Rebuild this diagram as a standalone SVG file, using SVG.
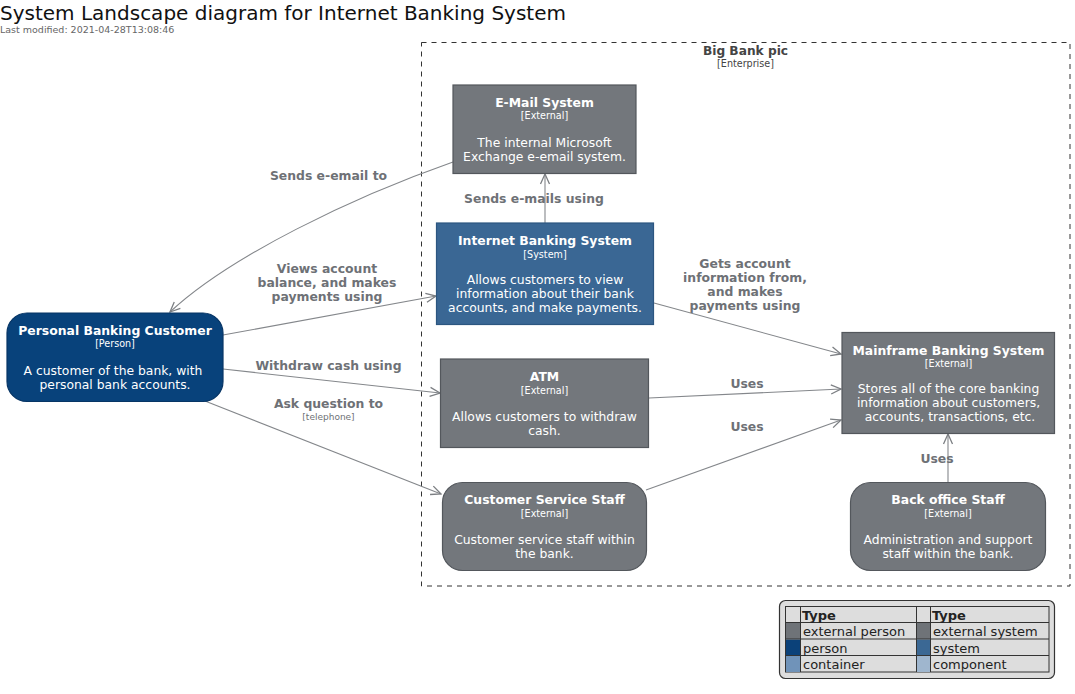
<svg xmlns="http://www.w3.org/2000/svg" width="1075" height="694" viewBox="0 0 1075 694">
<style>
text{font-family:"DejaVu Sans","Liberation Sans",sans-serif}
.t{font-size:12.4px;font-weight:bold;fill:#ffffff;text-anchor:middle}
.s{font-size:9.6px;fill:#ffffff;text-anchor:middle}
.d{font-size:12.35px;fill:#ffffff;text-anchor:middle}
.lbl{font-size:12.4px;font-weight:bold;fill:#6e7176;text-anchor:middle}
.lsm{font-size:9px;fill:#6e7176;text-anchor:middle}
.ext{fill:#73777c;stroke:#53575c;stroke-width:1.2}
.sys{fill:#3a6794;stroke:#2c5680;stroke-width:1.2}
.per{fill:#08427b;stroke:#073565;stroke-width:1.2}
.c{fill:none;stroke:#84878b;stroke-width:1.1}
.lg{font-size:13px;fill:#222}
.lgh{font-size:13px;font-weight:bold;fill:#222}
</style>
<defs>
<marker id="arr" viewBox="-11 -6 12 12" refX="0" refY="0" markerWidth="12" markerHeight="12" markerUnits="userSpaceOnUse" orient="auto">
<path d="M-10,-4.5 L0,0 L-10,4.5" fill="none" stroke="#7c7f83" stroke-width="1.3"/>
</marker>
</defs>
<rect width="1075" height="694" fill="#ffffff"/>
<g id="title">
<text x="0" y="20" font-size="20" fill="#111">System Landscape diagram for Internet Banking System</text>
<text x="0" y="33" font-size="9.5" fill="#666">Last modified: 2021-04-28T13:08:46</text>
</g>
<g id="enterprise">
<rect x="421.5" y="42.5" width="648.5" height="543.5" fill="none" stroke="#333" stroke-width="1" stroke-dasharray="5,5"/>
<text x="745.5" y="55" font-size="12.2" font-weight="bold" fill="#444" text-anchor="middle">Big Bank pic</text>
<text x="745.5" y="67" font-size="9.6" fill="#444" text-anchor="middle">[Enterprise]</text>
</g>
<g id="connectors">
<path class="c" d="M453,162 C353,197 230,256 170,312" marker-end="url(#arr)"/>
<path class="c" d="M545,223 L545,174" marker-end="url(#arr)"/>
<path class="c" d="M223,335 L436,296" marker-end="url(#arr)"/>
<path class="c" d="M654,303 L841,354" marker-end="url(#arr)"/>
<path class="c" d="M223,369 L440,393" marker-end="url(#arr)"/>
<path class="c" d="M649,398 L841,389" marker-end="url(#arr)"/>
<path class="c" d="M205,401 L441,494" marker-end="url(#arr)"/>
<path class="c" d="M646,490 L841,420" marker-end="url(#arr)"/>
<path class="c" d="M948,482 L948,434" marker-end="url(#arr)"/>
<text class="lbl" x="328.5" y="180">Sends e-email to</text>
<text class="lbl" x="534" y="203">Sends e-mails using</text>
<text class="lbl" x="327" y="273">Views account</text>
<text class="lbl" x="327" y="287">balance, and makes</text>
<text class="lbl" x="327" y="301">payments using</text>
<text class="lbl" x="745" y="268">Gets account</text>
<text class="lbl" x="745" y="282">information from,</text>
<text class="lbl" x="745" y="296">and makes</text>
<text class="lbl" x="745" y="310">payments using</text>
<text class="lbl" x="328.5" y="370">Withdraw cash using</text>
<text class="lbl" x="747" y="388">Uses</text>
<text class="lbl" x="328.5" y="408">Ask question to</text>
<text class="lsm" x="328.5" y="419.5">[telephone]</text>
<text class="lbl" x="747" y="431">Uses</text>
<text class="lbl" x="937" y="463">Uses</text>
</g>
<g id="email">
<rect class="ext" x="453" y="85" width="183" height="88.5"/>
<text class="t" x="544.5" y="107">E-Mail System</text>
<text class="s" x="544.5" y="119">[External]</text>
<text class="d" x="544.5" y="146.5">The internal Microsoft</text>
<text class="d" x="544.5" y="160.5">Exchange e-email system.</text>
</g>
<g id="ibs">
<rect class="sys" x="436.5" y="223" width="217" height="101.5"/>
<text class="t" x="545" y="245">Internet Banking System</text>
<text class="s" x="545" y="257.5">[System]</text>
<text class="d" x="545" y="284">Allows customers to view</text>
<text class="d" x="545" y="298">information about their bank</text>
<text class="d" x="545" y="312">accounts, and make payments.</text>
</g>
<g id="pbc">
<rect class="per" x="7" y="313" width="216" height="88.5" rx="20" ry="20"/>
<text class="t" x="115" y="335">Personal Banking Customer</text>
<text class="s" x="115" y="347">[Person]</text>
<text class="d" x="113" y="375">A customer of the bank, with</text>
<text class="d" x="115" y="389">personal bank accounts.</text>
</g>
<g id="atm">
<rect class="ext" x="440.5" y="359" width="208" height="88.5"/>
<text class="t" x="544.5" y="381">ATM</text>
<text class="s" x="544.5" y="393.5">[External]</text>
<text class="d" x="544.5" y="421">Allows customers to withdraw</text>
<text class="d" x="544.5" y="435">cash.</text>
</g>
<g id="mainframe">
<rect class="ext" x="842" y="332.5" width="212.5" height="101"/>
<text class="t" x="948.5" y="354.5">Mainframe Banking System</text>
<text class="s" x="948.5" y="366.5">[External]</text>
<text class="d" x="948.5" y="393">Stores all of the core banking</text>
<text class="d" x="948.5" y="407">information about customers,</text>
<text class="d" x="950" y="421">accounts, transactions, etc.</text>
</g>
<g id="css">
<rect class="ext" x="442.5" y="482.5" width="204" height="88" rx="20" ry="20"/>
<text class="t" x="544.5" y="504">Customer Service Staff</text>
<text class="s" x="544.5" y="516.5">[External]</text>
<text class="d" x="544.5" y="544">Customer service staff within</text>
<text class="d" x="544.5" y="558">the bank.</text>
</g>
<g id="backoffice">
<rect class="ext" x="850.5" y="482.5" width="195" height="88" rx="20" ry="20"/>
<text class="t" x="948" y="504">Back office Staff</text>
<text class="s" x="948" y="516.5">[External]</text>
<text class="d" x="948" y="544">Administration and support</text>
<text class="d" x="948" y="558">staff within the bank.</text>
</g>
<g id="legend">
<rect x="779.5" y="600.5" width="275" height="78" rx="6" ry="6" fill="#dddddd" stroke="#333" stroke-width="1.2"/>
<rect x="785.5" y="606.5" width="263.5" height="65.5" fill="#dddddd" stroke="#333" stroke-width="1"/>
<rect x="786" y="623" width="14" height="16" fill="#6f7378"/>
<rect x="786" y="639.5" width="14" height="16" fill="#0b4179"/>
<rect x="786" y="656" width="14" height="16" fill="#7093b9"/>
<rect x="917" y="623" width="14" height="16" fill="#6f7378"/>
<rect x="917" y="639.5" width="14" height="16" fill="#3b6894"/>
<rect x="917" y="656" width="14" height="16" fill="#9fb6ce"/>
<g stroke="#333" stroke-width="1" fill="none">
<path d="M785.5,622.5 H1049 M785.5,639 H1049 M785.5,655.5 H1049"/>
<path d="M800.5,606.5 V672 M916.5,606.5 V672 M930.5,606.5 V672"/>
</g>
<text class="lgh" x="802" y="620">Type</text>
<text class="lgh" x="932" y="620">Type</text>
<text class="lg" x="803" y="636">external person</text>
<text class="lg" x="803" y="652.5">person</text>
<text class="lg" x="803" y="669">container</text>
<text class="lg" x="933" y="636">external system</text>
<text class="lg" x="933" y="652.5">system</text>
<text class="lg" x="933" y="669">component</text>
</g>
</svg>
